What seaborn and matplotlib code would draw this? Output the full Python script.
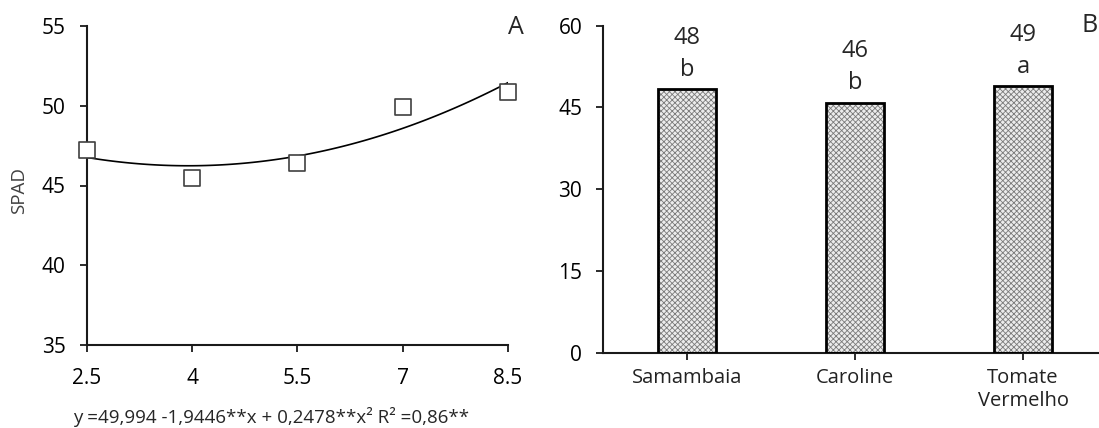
import matplotlib
matplotlib.use('Agg')
import matplotlib.pyplot as plt
import seaborn as sns
import pandas as pd

# ---- data ----
doses = [2.5, 4, 5.5, 7, 8.5]
spad_dose = [47.2, 45.5, 46.4, 49.9, 50.85]
cultivars = ['Samambaia', 'Caroline', 'Tomate\nVermelho']
spad_cultivar = [48.35, 45.9, 48.85]
mean_labels = ['48', '46', '49']
letters = ['b', 'b', 'a']
x_ticks_a = [2.5, 4, 5.5, 7, 8.5]
x_ticklabels_a = ['2.5', '4', '5.5', '7', '8.5']
y_ticks_a = [35, 40, 45, 50, 55]
y_ticks_b = [0, 15, 30, 45, 60]
equation = 'y =49,994 -1,9446**x + 0,2478**x² R² =0,86**'

sns.set_theme(style='white')
plt.rcParams['font.family'] = ['Open Sans', 'DejaVu Sans']
plt.rcParams['hatch.linewidth'] = 0.6

W, H = 1099, 428
fig = plt.figure(figsize=(W / 100, H / 100), dpi=100)
axA = fig.add_axes([86.7 / W, 1 - 345.3 / H, (508 - 86.7) / W, (345.3 - 25.7) / H])
axB = fig.add_axes([603 / W, 1 - 352.7 / H, (1107 - 603) / W, (352.7 - 25.7) / H])

# ---- panel A ----
dfA = pd.DataFrame({'dose': doses, 'spad': spad_dose})
sns.regplot(data=dfA, x='dose', y='spad', order=2, ci=None, scatter=False,
            truncate=True, line_kws=dict(color='black', lw=1.2), ax=axA)
sns.scatterplot(data=dfA, x='dose', y='spad', marker='s', s=125, color='white',
                edgecolor='#404040', linewidth=1.2, ax=axA, zorder=3, clip_on=False)
axA.set_xlim(2.5, 8.5)
axA.set_ylim(35, 55)
axA.set_xticks(x_ticks_a)
axA.set_xticklabels(x_ticklabels_a)
axA.set_yticks(y_ticks_a)
axA.set_xlabel('')
axA.set_ylabel('SPAD', fontsize=13.5, color='#404040', va='center')
axA.yaxis.set_label_coords((19 - 86.7) / (508 - 86.7), (345.3 - 190) / (345.3 - 25.7))

# ---- panel B ----
dfB = pd.DataFrame({'cultivar': cultivars, 'spad': spad_cultivar})
sns.barplot(data=dfB, x='cultivar', y='spad', width=0.34, color='#e6e6e6',
            errorbar=None, ax=axB)
for p in list(axB.patches):
    p.set_facecolor('#ececec')
    p.set_edgecolor('#7a7a7a')
    p.set_hatch('xxxxxx')
    p.set_linewidth(0)
    axB.add_patch(plt.Rectangle(p.get_xy(), p.get_width(), p.get_height(), fill=False,
                                edgecolor='black', lw=2, zorder=3))
for i, v in enumerate(spad_cultivar):
    axB.annotate(letters[i], (i, v), xytext=(0, 9.5), textcoords='offset points',
                 ha='center', va='baseline', fontsize=17)
    axB.annotate(mean_labels[i], (i, v), xytext=(0, 32.5), textcoords='offset points',
                 ha='center', va='baseline', fontsize=17)
axB.set_xlim(-0.5, 2.5)
axB.set_ylim(0, 60)
axB.set_yticks(y_ticks_b)
axB.set_xlabel('')
axB.set_ylabel('')

for ax, xpad in ((axA, 11), (axB, 6)):
    for s in ('top', 'right'):
        ax.spines[s].set_visible(False)
    for s in ('left', 'bottom'):
        ax.spines[s].set_color('#1a1a1a')
        ax.spines[s].set_linewidth(1.5)
    ax.tick_params(axis='both', which='major', direction='out', length=5, width=1.3,
                   color='#1a1a1a', labelcolor='black', bottom=True, left=True)
    ax.tick_params(axis='y', labelsize=15, pad=10)
    ax.tick_params(axis='x', pad=xpad)
axA.tick_params(axis='x', labelsize=15)
axB.tick_params(axis='x', labelsize=14.5)
for lab in axB.get_xticklabels():
    lab.set_color('#222222')

fig.text(271 / W, 1 - 417 / H, equation, ha='center', va='center', fontsize=13.5)
fig.text(516 / W, 1 - 27 / H, 'A', ha='center', va='center', fontsize=18)
fig.text(1082 / W, 1 - 25 / H, 'B', ha='left', va='center', fontsize=18)

fig.savefig('out.png', dpi=100)
